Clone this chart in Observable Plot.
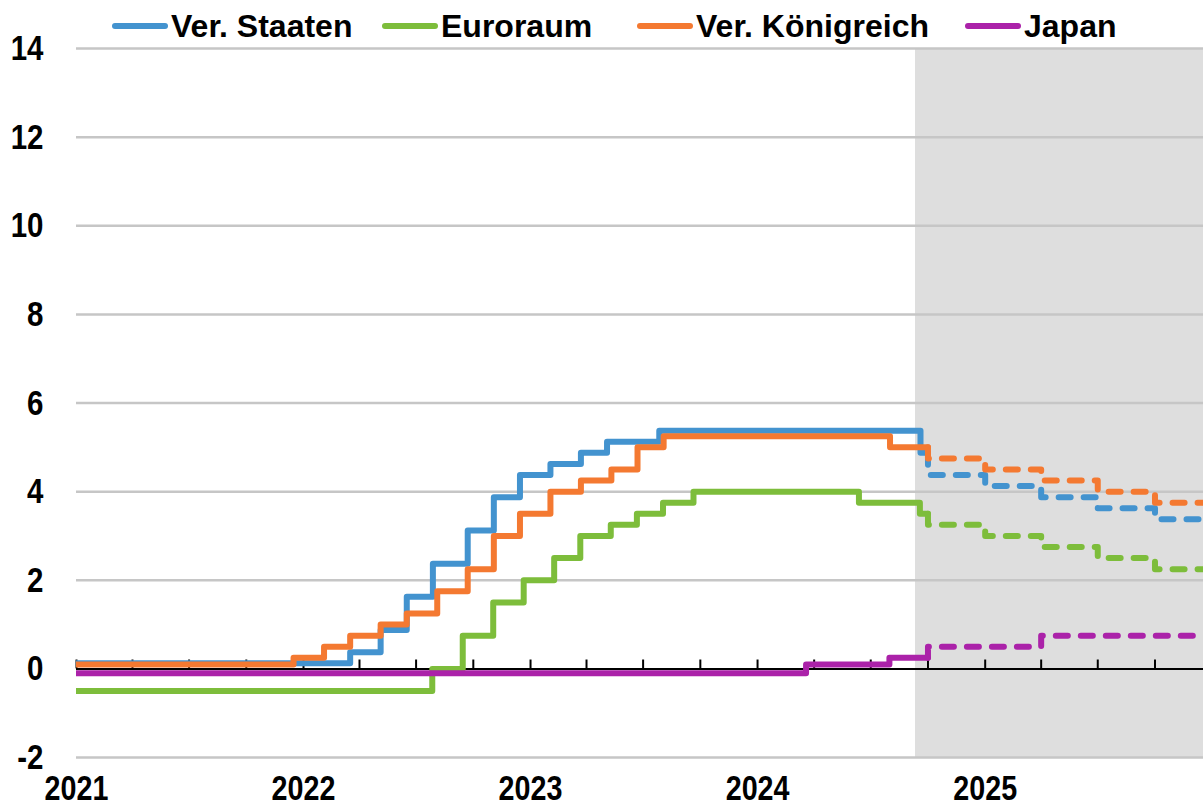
<!DOCTYPE html>
<html><head><meta charset="utf-8">
<script src="https://cdn.jsdelivr.net/npm/d3@7"></script>
<script src="https://cdn.jsdelivr.net/npm/@observablehq/plot@0.6"></script>
<style>
body{margin:0;background:#fff;}
#wrap{position:relative;width:1203px;height:808px;overflow:hidden;}
#legend{position:absolute;left:0;top:8px;width:1203px;height:36px;font-family:"Liberation Sans",Arial,sans-serif;font-weight:bold;font-size:32px;color:#000;white-space:nowrap;line-height:36px;}
.item{position:absolute;top:0;display:flex;align-items:center;}
.sw{width:56px;height:6px;border-radius:3px;margin-right:3px;}
#chart{position:absolute;left:0;top:0;}
</style></head><body><div id="wrap"><div id="chart"></div><div id="legend"></div></div>
<script>
const series = ["Ver. Staaten", "Euroraum", "Ver. Königreich", "Japan"];
const colors = ["#4393CF", "#7DBD3B", "#F47931", "#AB22A9"];

const usDates = ["2021-01-01","2022-03-17","2022-05-05","2022-06-16","2022-07-28","2022-09-22","2022-11-03","2022-12-15","2023-02-02","2023-03-23","2023-05-04","2023-07-27","2024-09-19"];
const usRates = [0.125,0.375,0.875,1.625,2.375,3.125,3.875,4.375,4.625,4.875,5.125,5.375,4.875];

const euDates = ["2021-01-01","2022-07-27","2022-09-14","2022-11-02","2022-12-21","2023-02-08","2023-03-22","2023-05-10","2023-06-21","2023-08-02","2023-09-20","2024-06-12","2024-09-18"];
const euRates = [-0.5,0,0.75,1.5,2.0,2.5,3.0,3.25,3.5,3.75,4.0,3.75,3.5];

const ukDates = ["2021-01-01","2021-12-16","2022-02-03","2022-03-17","2022-05-05","2022-06-16","2022-08-04","2022-09-22","2022-11-03","2022-12-15","2023-02-02","2023-03-23","2023-05-11","2023-06-22","2023-08-03","2024-08-01"];
const ukRates = [0.1,0.25,0.5,0.75,1.0,1.25,1.75,2.25,3.0,3.5,4.0,4.25,4.5,5.0,5.25,5.0];

const jpDates = ["2021-01-01","2024-03-19","2024-07-31"];
const jpRates = [-0.1,0.1,0.25];

const forecastDates = ["2024-10-01","2025-01-01","2025-04-01","2025-07-01","2025-10-01"];
const usForecast = [4.375,4.125,3.875,3.625,3.375];
const euForecast = [3.25,3.0,2.75,2.5,2.25];
const ukForecast = [4.75,4.5,4.25,4.0,3.75];
const jpForecast = [0.5,0.5,0.75,0.75,0.75];

const startDate = "2021-01-01";
const actualEnd = "2024-10-01";
const chartEnd = "2025-12-18";
const shadeStart = "2024-09-11";
const yTicks = [-2,0,2,4,6,8,10,12,14];
const yearLabels = ["2021","2022","2023","2024","2025"];

// legend layout (pixels)
const legendLeft = [112, 382, 637, 965];
const narrow = 0.82;

const D = s => new Date(s + "T00:00:00Z");
const actualSets = [[usDates,usRates],[euDates,euRates],[ukDates,ukRates],[jpDates,jpRates]];
const forecastSets = [usForecast, euForecast, ukForecast, jpForecast];

const actualRows = [], forecastRows = [];
series.forEach((name, i) => {
  const [ds, vs] = actualSets[i];
  ds.forEach((d, j) => actualRows.push({series: name, date: D(d), value: vs[j]}));
  const last = vs[vs.length - 1];
  actualRows.push({series: name, date: D(actualEnd), value: last});
  forecastRows.push({series: name, date: D(actualEnd), value: last});
  const fc = forecastSets[i];
  forecastDates.forEach((d, j) => forecastRows.push({series: name, date: D(d), value: fc[j]}));
  forecastRows.push({series: name, date: D(chartEnd), value: fc[fc.length - 1]});
});

const quarterTicks = d3.utcMonth.every(3).range(D(startDate), D(chartEnd));
const yearTicks = yearLabels.map(y => D(y + "-01-01"));
const FONT = '"Liberation Sans",Arial,sans-serif';

const chart = Plot.plot({
  width: 1203, height: 808,
  marginTop: 48, marginBottom: 51, marginLeft: 76, marginRight: 0,
  style: {fontFamily: FONT, fontSize: "36px", fontWeight: "bold", color: "#000", background: "transparent", overflow: "visible"},
  x: {type: "utc", domain: [D(startDate), D(chartEnd)]},
  y: {domain: [-2, 14]},
  color: {domain: series, range: colors},
  marks: [
    Plot.rect([{a: D(shadeStart), b: D(chartEnd)}], {x1: "a", x2: "b", y1: yTicks[0], y2: yTicks[yTicks.length-1], fill: "#DEDEDE"}),
    Plot.ruleY(yTicks.filter(v => v !== 0), {stroke: "#C6C6C6", strokeWidth: 2.5}),
    Plot.ruleY([0], {stroke: "#000", strokeWidth: 2}),
    Plot.ruleX(quarterTicks, {x: d => d, y1: 0, y2: 0.2, stroke: "#000", strokeWidth: 2}),
    Plot.line(actualRows, {x: "date", y: "value", z: "series", stroke: "series", curve: "step-after", strokeWidth: 6, strokeLinejoin: "round", clip: true}),
    Plot.line(forecastRows, {x: "date", y: "value", z: "series", stroke: "series", curve: "step-after", strokeWidth: 6, strokeLinejoin: "round", strokeLinecap: "round", strokeDasharray: "12,13", clip: true}),
    Plot.axisY({ticks: yTicks, tickSize: 0, tickPadding: 33, label: null, tickFormat: d => String(d), fontSize: 36, fontWeight: "bold"}),
    Plot.axisX({ticks: yearTicks, tickSize: 0, tickPadding: 18, label: null, tickFormat: d3.utcFormat("%Y"), fontSize: 35, fontWeight: "bold"})
  ]
});
document.getElementById("chart").appendChild(chart);

// condense axis labels horizontally (narrow bold face of the original)
d3.select(chart).selectAll("text").each(function() {
  const bb = this.getBBox();
  const holder = this.closest("[text-anchor]");
  const anchor = holder ? holder.getAttribute("text-anchor") : "start";
  const cx = anchor === "end" ? bb.x + bb.width : anchor === "middle" ? bb.x + bb.width / 2 : bb.x;
  const t = this.getAttribute("transform") || "";
  this.setAttribute("transform", `${t} translate(${cx},0) scale(${narrow},1) translate(${-cx},0)`);
});

const legend = document.getElementById("legend");
series.forEach((name, i) => {
  const it = document.createElement("div");
  it.className = "item";
  it.style.left = legendLeft[i] + "px";
  const sw = document.createElement("span");
  sw.className = "sw";
  sw.style.background = colors[i];
  const tx = document.createElement("span");
  tx.textContent = name;
  it.appendChild(sw); it.appendChild(tx);
  legend.appendChild(it);
});
</script></body></html>
